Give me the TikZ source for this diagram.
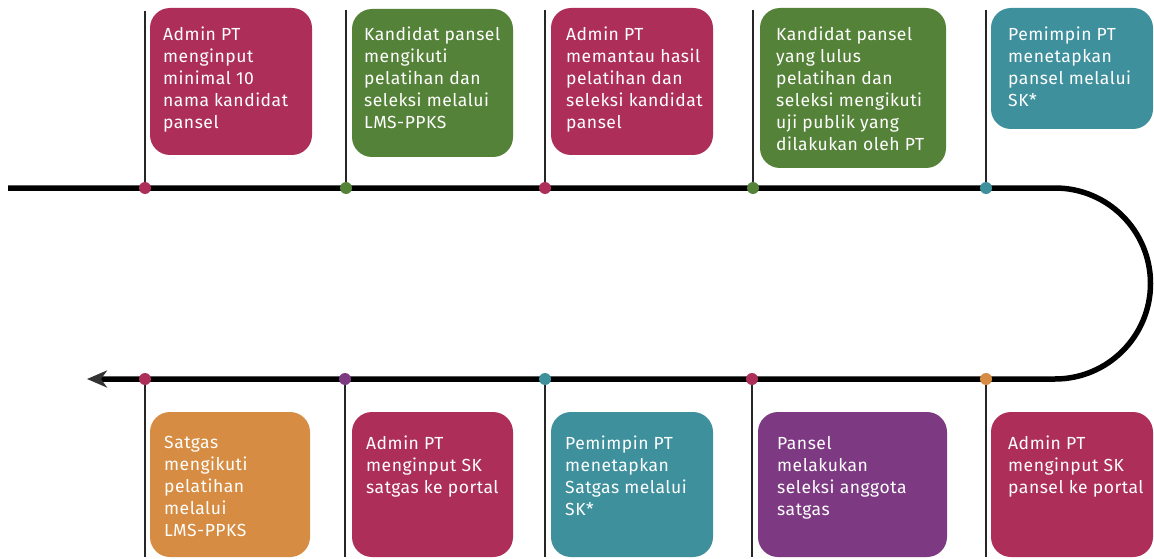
\documentclass[tikz,border=0pt]{standalone}
\usepackage{fontspec}
\setmainfont[Ligatures=NoCommon,LetterSpace=3]{Fira Sans}
\usetikzlibrary{arrows.meta}
\definecolor{crim}{HTML}{AD2F59}
\definecolor{grn}{HTML}{558239}
\definecolor{teal2}{HTML}{3E909D}
\definecolor{orng}{HTML}{D68C42}
\definecolor{purp}{HTML}{7D3A82}
\begin{document}
\begin{tikzpicture}[x=1pt,y=-1pt,
  card/.style={rounded corners=20pt, inner sep=0pt, outer sep=0pt, anchor=north west},
  lbl/.style={anchor=north west, inner sep=0pt, align=left, text=white, font=\fontsize{17.5}{22}\selectfont},
  dot/.style={circle, inner sep=0pt, minimum size=12pt},
  tick/.style={line width=1.1pt, draw=black!85},
  tline/.style={line width=5.5pt, black}]
\useasboundingbox (0,0) rectangle (1154,559);

% top cards
\node[card, fill=crim, minimum width=162pt, minimum height=147pt] (b1) at (150,8) {};
\node[card, fill=grn,  minimum width=161pt, minimum height=148pt] (b2) at (352,9) {};
\node[card, fill=crim, minimum width=162pt, minimum height=147pt] (b3) at (551,8) {};
\node[card, fill=grn,  minimum width=186pt, minimum height=160pt] (b4) at (760,8) {};
\node[card, fill=teal2,minimum width=162pt, minimum height=121pt] (b5) at (991,8) {};
% bottom cards
\node[card, fill=orng, minimum width=160pt, minimum height=145pt] (b6) at (150,412) {};
\node[card, fill=crim, minimum width=161pt, minimum height=145pt] (b7) at (352,412) {};
\node[card, fill=teal2,minimum width=162pt, minimum height=145pt] (b8) at (551,412) {};
\node[card, fill=purp, minimum width=189pt, minimum height=145pt] (b9) at (758,412) {};
\node[card, fill=crim, minimum width=162pt, minimum height=145pt] (b10) at (991,412) {};

% texts
\node[lbl] (t1) at (163,27) {Admin PT\\menginput\\minimal 10\\nama kandidat\\pansel};
\node[lbl] (t2) at (364,27) {Kandidat pansel\\mengikuti\\pelatihan dan\\seleksi melalui\\LMS-PPKS};
\node[lbl] (t3) at (566,27) {Admin PT\\memantau hasil\\pelatihan dan\\seleksi kandidat\\pansel};
\node[lbl] (t4) at (776,27) {Kandidat pansel\\yang lulus\\pelatihan dan\\seleksi mengikuti\\uji publik yang\\dilakukan oleh PT};
\node[lbl] (t5) at (1008,27) {Pemimpin PT\\menetapkan\\pansel melalui\\SK*};
\node[lbl] (t6) at (164,436) {Satgas\\mengikuti\\pelatihan\\melalui\\LMS-PPKS};
\node[lbl] (t7) at (366,436) {Admin PT\\menginput SK\\satgas ke portal};
\node[lbl] (t8) at (565,436) {Pemimpin PT\\menetapkan\\Satgas melalui\\SK*};
\node[lbl] (t9) at (777,436) {Pansel\\melakukan\\seleksi anggota\\satgas};
\node[lbl] (t10) at (1008,436) {Admin PT\\menginput SK\\pansel ke portal};

% timeline
\coordinate (ls) at (8,188);
\coordinate (rt) at (1055,188);
\coordinate (le) at (87,379);
\draw[tline, -{Stealth[length=20pt,width=17pt,inset=6pt,color=black!80]}]
  (ls) -- (rt) arc (-90:90:95.5) -- (le);

% top ticks and dots
\coordinate (u1) at (145,11);  \coordinate (u2) at (346,10); \coordinate (u3) at (545,10);
\coordinate (u4) at (753,10);  \coordinate (u5) at (986,10);
\node[dot, fill=crim]  (d1) at (145,188) {};
\node[dot, fill=grn]   (d2) at (346,188) {};
\node[dot, fill=crim]  (d3) at (545,188) {};
\node[dot, fill=grn]   (d4) at (753,188) {};
\node[dot, fill=teal2] (d5) at (986,188) {};
\draw[tick] (u1) -- (d1.north);
\draw[tick] (u2) -- (d2.north);
\draw[tick] (u3) -- (d3.north);
\draw[tick] (u4) -- (d4.north);
\draw[tick] (u5) -- (d5.north);

% bottom ticks and dots
\coordinate (v1) at (145,557); \coordinate (v2) at (345,557); \coordinate (v3) at (545,557);
\coordinate (v4) at (752,557); \coordinate (v5) at (986,557);
\node[dot, fill=crim]  (e1) at (145,379) {};
\node[dot, fill=purp]  (e2) at (345,379) {};
\node[dot, fill=teal2] (e3) at (545,379) {};
\node[dot, fill=crim]  (e4) at (752,379) {};
\node[dot, fill=orng]  (e5) at (986,379) {};
\draw[tick] (e1.south) -- (v1);
\draw[tick] (e2.south) -- (v2);
\draw[tick] (e3.south) -- (v3);
\draw[tick] (e4.south) -- (v4);
\draw[tick] (e5.south) -- (v5);
\end{tikzpicture}
\end{document}
